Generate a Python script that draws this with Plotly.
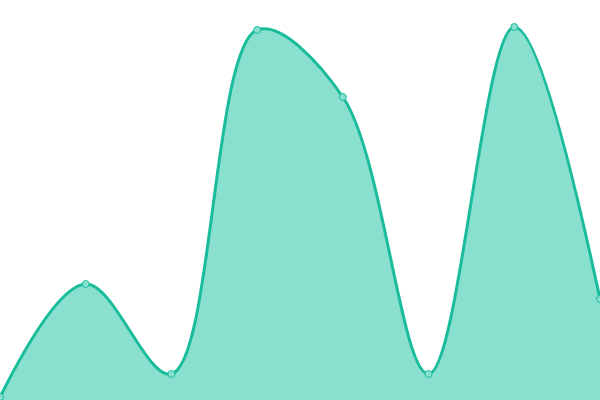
import plotly.graph_objects as go

# point index along the x axis and the value at each point
x_vals = [0, 1, 2, 3, 4, 5, 6, 7]
y_vals = [3, 116, 26, 370, 303, 26, 373, 101]

line_color = "#1abc9c"
fill_color = "#8ae0cf"

fig = go.Figure()

fig.add_trace(go.Scatter(
    x=x_vals,
    y=y_vals,
    mode="lines+markers",
    line=dict(color=line_color, width=3, shape="spline", smoothing=1),
    marker=dict(size=7, color=fill_color, line=dict(color=line_color, width=1)),
    fill="tozeroy",
    fillcolor=fill_color,
    showlegend=False,
    hoverinfo="skip",
))

fig.update_layout(
    width=600,
    height=400,
    margin=dict(l=0, r=0, t=0, b=0),
    paper_bgcolor="white",
    plot_bgcolor="white",
    xaxis=dict(range=[0, 7], visible=False, fixedrange=True),
    yaxis=dict(range=[0, 400], visible=False, fixedrange=True),
)

# drop the page's default body margin so the chart sits flush at 0,0
fig.write_html(
    "out.html",
    config={"displayModeBar": False},
    post_script="document.body.style.margin='0';document.body.style.overflow='hidden';",
)
